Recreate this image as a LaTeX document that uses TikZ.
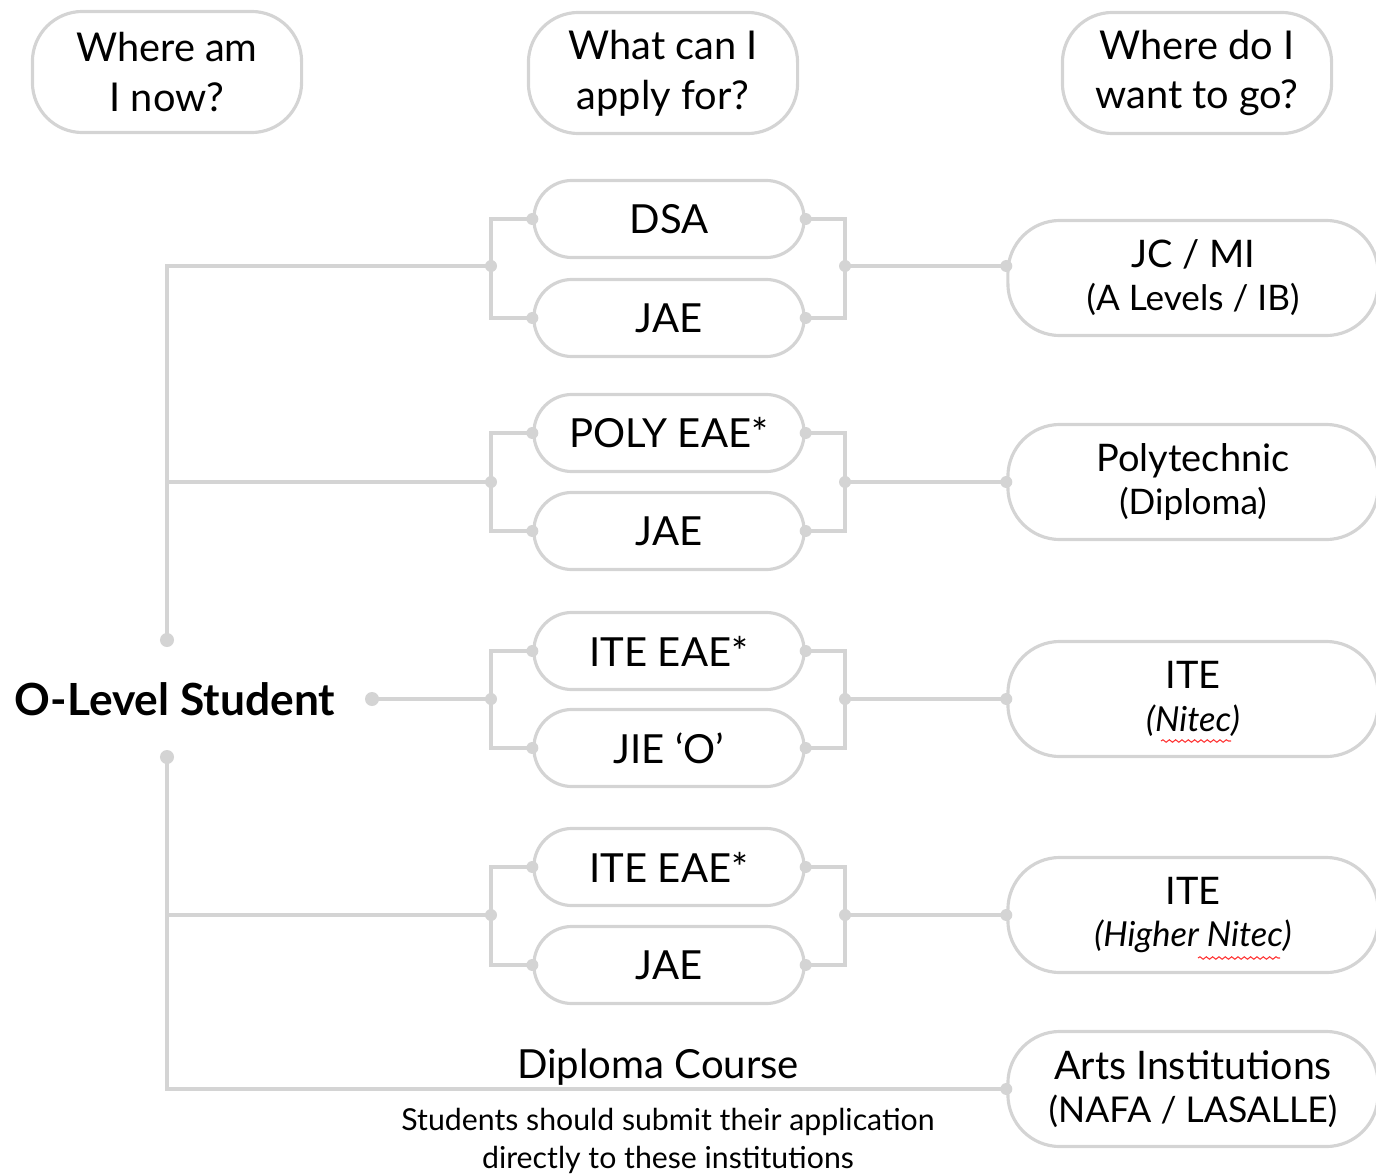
\documentclass[tikz,border=0pt]{standalone}
\usepackage{fontspec}
\setmainfont{Lato}
\usepackage{tikz}
\usetikzlibrary{positioning,decorations.pathmorphing}

\definecolor{linegray}{RGB}{212,212,212}

\begin{document}
\begin{tikzpicture}[x=0.01cm, y=-0.01cm,
    link/.style={draw=linegray, line width=1pt},
    header/.style={draw=linegray, line width=0.9pt, rounded corners=0.5cm, minimum width=2.69cm, minimum height=1.21cm, align=center, font=\fontsize{11.3}{14.2}\selectfont},
    choice/.style={draw=linegray, line width=0.9pt, rounded corners=0.38cm, minimum width=2.7cm, minimum height=0.77cm, font=\fontsize{11.4}{13}\selectfont},
    dest/.style={draw=linegray, line width=0.9pt, rounded corners=0.52cm, minimum width=3.7cm, minimum height=1.15cm, align=center, font=\fontsize{10.8}{12.2}\selectfont},
    spell/.style={draw=red!80, line width=0.3pt, decorate, decoration={snake, amplitude=0.35pt, segment length=1.8pt}}]
    \useasboundingbox (0,0) rectangle (1376,1176);

    % Column headers
    \node[header] (now) at (167, 72) {Where am\\I now?};
    \node[header] (apply) at (663, 73) {What can I\\apply for?};
    \node[header] (goal) at (1197, 73) {Where do I\\want to go?};

    % Student
    \node[font=\fontsize{12.6}{14}\selectfont\bfseries] (student) at (175, 699) {O-Level Student};

    % Application schemes
    \node[choice] (dsa) at (669, 219) {DSA};
    \node[choice] (jaeA) at (669, 318) {JAE};
    \node[choice] (polyeae) at (669, 433) {POLY EAE*};
    \node[choice] (jaeB) at (669, 531) {JAE};
    \node[choice] (iteeaeA) at (669, 651) {ITE EAE*};
    \node[choice] (jie) at (669, 748) {JIE `O'};
    \node[choice] (iteeaeB) at (669, 867) {ITE EAE*};
    \node[choice] (jaeC) at (669, 965) {JAE};

    % Destinations
    \node[dest] (jc) at (1193, 278) {JC / MI\\{\fontsize{10}{11}\selectfont (A Levels / IB)}};
    \node[dest] (poly) at (1193, 482) {Polytechnic\\{\fontsize{10}{11}\selectfont (Diploma)}};
    \node[dest] (ite) at (1193, 699) {ITE\\{\fontsize{9.8}{11}\selectfont\itshape (Nitec)}};
    \node[dest] (hite) at (1193, 915) {ITE\\{\fontsize{9.8}{11}\selectfont\itshape (Higher Nitec)}};
    \node[dest] (arts) at (1193, 1089) {{\fontsize{11.2}{12}\selectfont Arts Institutions}\\{\fontsize{10.1}{11}\selectfont (NAFA / LASALLE)}};

    % Spell-check marks
    \draw[spell] ([shift={(-32,42)}]ite.center) -- ([shift={(38,42)}]ite.center);
    \draw[spell] ([shift={(5,43)}]hite.center) -- ([shift={(87,43)}]hite.center);

    % Diploma course notes
    \node[font=\fontsize{11.4}{12}\selectfont] (course) at (658, 1067) {Diploma Course};
    \node[align=center, font=\fontsize{8.6}{10.8}\selectfont] (note) at (668, 1141) {Students should submit their application\\directly to these institutions};

    % Bracket joints
    \coordinate (b1l) at (491, 266);
    \coordinate (b1r) at (845, 266);
    \coordinate (b2l) at (491, 482);
    \coordinate (b2r) at (845, 482);
    \coordinate (b3l) at (491, 699);
    \coordinate (b3r) at (845, 699);
    \coordinate (b4l) at (491, 915);
    \coordinate (b4r) at (845, 915);
    \coordinate (top) at (167, 640);
    \coordinate (bot) at (167, 757);
    \coordinate (sdot) at (372, 699);

    % Brackets round each pair
    \draw[link] (dsa.west) -| (b1l) |- (jaeA.west);
    \draw[link] (dsa.east) -| (b1r) |- (jaeA.east);
    \draw[link] (polyeae.west) -| (b2l) |- (jaeB.west);
    \draw[link] (polyeae.east) -| (b2r) |- (jaeB.east);
    \draw[link] (iteeaeA.west) -| (b3l) |- (jie.west);
    \draw[link] (iteeaeA.east) -| (b3r) |- (jie.east);
    \draw[link] (iteeaeB.west) -| (b4l) |- (jaeC.west);
    \draw[link] (iteeaeB.east) -| (b4r) |- (jaeC.east);

    % Links to destinations
    \draw[link] (b1r) -- (b1r -| jc.west);
    \draw[link] (b2r) -- (poly.west);
    \draw[link] (b3r) -- (ite.west);
    \draw[link] (b4r) -- (hite.west);

    % Trunk from the student
    \draw[link] (top) |- (b1l);
    \draw[link] (b2l -| top) -- (b2l);
    \draw[link] (sdot) -- (b3l);
    \draw[link] (bot) |- (arts.west);
    \draw[link] (b4l -| bot) -- (b4l);

    % Dots
    \foreach \n in {dsa, jaeA, polyeae, jaeB, iteeaeA, jie, iteeaeB, jaeC} {
        \fill[linegray] (\n.west) circle (0.06cm);
        \fill[linegray] (\n.east) circle (0.06cm);
    }
    \foreach \c in {b1l, b1r, b2l, b2r, b3l, b3r, b4l, b4r} {
        \fill[linegray] (\c) circle (0.06cm);
    }
    \fill[linegray] (b1r -| jc.west) circle (0.06cm);
    \foreach \n in {poly, ite, hite, arts} {
        \fill[linegray] (\n.west) circle (0.06cm);
    }
    \foreach \c in {top, bot, sdot} {
        \fill[linegray] (\c) circle (0.07cm);
    }
\end{tikzpicture}
\end{document}
